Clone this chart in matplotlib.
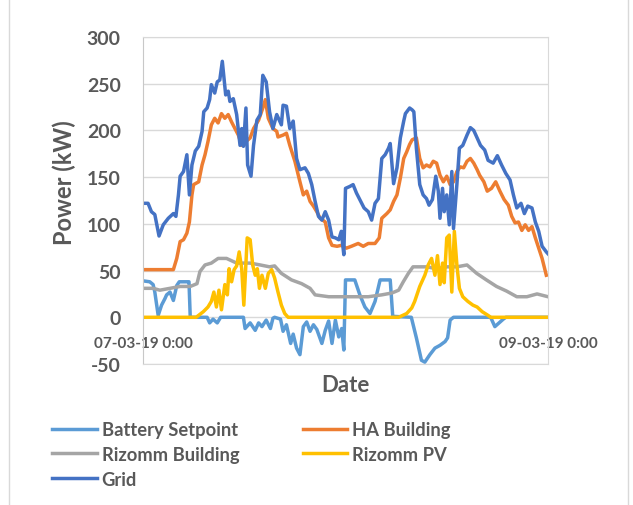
import matplotlib
matplotlib.use('Agg')
import matplotlib.pyplot as plt
from matplotlib.lines import Line2D

plt.rcParams['font.family'] = ['Lato', 'DejaVu Sans']
plt.rcParams['axes.unicode_minus'] = False

# hours since 07-03-19 0:00, power in kW
battery_h = [0, 0.8, 1.2, 1.4, 1.8, 2.2, 2.6, 2.8, 3.2, 3.6, 4.0, 4.3, 5.2, 5.45, 5.6, 7.6, 7.9, 8.3, 8.8, 9.2,
             11.9, 12.1, 12.7, 13.3, 13.7, 14.1, 14.6, 15.1, 15.4, 15.6, 16.3, 16.6, 17.0, 17.5, 17.8, 18.2, 18.6,
             19.0, 19.4, 19.8, 20.2, 20.6, 21.2, 21.6, 22.0, 22.4, 22.8, 23.2, 23.55, 23.8, 24.0, 25.1, 25.7,
             26.3, 26.9, 27.5, 28.1, 29.3, 29.6, 31.8, 32.4, 33.0, 33.4, 34.0, 34.6, 35.2, 35.8, 36.1, 36.4,
             36.8, 41.2, 41.7, 42.2, 42.7, 43.0, 48]
battery_kw = [39, 38, 35, 27, 2, 13, 20, 24, 27, 18, 34, 38, 38, 38, 0, 0, -6, -2, -6, 0,
              0, -12, -6, -14, -6, -10, -3, -12, -1, 0, -2, -15, -8, -28, -18, -33, -40,
              -10, -5, -15, -8, -13, -28, -14, -4, -28, -3, -21, -12, -35, 40, 40, 24,
              11, 4, 17, 40, 40, 1, 0, -22, -46, -48, -40, -33, -30, -26, -22, -3,
              0, 0, -10, -6, -2, 0, 0]

ha_h = [0, 3.6, 4.0, 4.4, 4.8, 5.2, 5.5, 5.8, 6.0, 6.6, 7.0, 7.35, 7.7, 8.1, 8.5, 8.9, 9.3, 9.7, 10.1, 10.5,
        10.9, 11.3, 11.7, 12.2, 12.7, 13.1, 13.7, 14.2, 14.5, 14.85, 15.4, 15.85, 16.0, 16.6, 17.0, 17.4, 18.0,
        18.6, 19.0, 19.4, 19.8, 20.2, 20.6, 21.0, 21.6, 22.0, 22.4, 23.0, 23.5, 24.1, 24.7, 25.5, 26.1, 26.7,
        27.5, 28.0, 28.3, 28.9, 29.3, 29.7, 30.1, 30.5, 30.9, 31.25, 31.6, 31.9, 32.4, 32.8, 33.2, 33.6, 34.0,
        34.4, 34.8, 35.2, 35.6, 36.0, 36.4, 36.8, 37.2, 37.6, 38.0, 38.4, 38.8, 39.2, 39.6, 39.9, 40.4, 40.8,
        41.3, 41.8, 42.3, 42.8, 43.3, 43.7, 44.1, 44.5, 44.9, 45.3, 45.7, 46.1, 46.5, 46.9, 47.3, 47.8]
ha_kw = [51, 51, 63, 81, 83, 90, 102, 131, 142, 145, 163, 174, 188, 206, 213, 208, 218, 213, 217, 209,
         202, 195, 184, 188, 192, 202, 211, 224, 233, 213, 202, 199, 193, 195, 197, 184, 167,
         145, 131, 135, 124, 119, 113, 106, 102, 85, 77, 76, 77, 74, 76, 79, 76, 79,
         79, 85, 106, 111, 115, 124, 131, 149, 170, 177, 185, 190, 192, 170, 160, 163, 161,
         167, 165, 152, 145, 151, 142, 145, 156, 161, 160, 167, 170, 165, 158, 152, 145, 135,
         138, 145, 135, 126, 120, 108, 101, 102, 93, 99, 93, 97, 85, 74, 63, 45]

rizomm_bld_h = [0, 1.2, 2.0, 3.2, 4.4, 5.6, 6.4, 6.75, 7.35, 8.1, 8.9, 9.9, 11.1, 12.7, 13.9, 15.0, 15.6,
                16.4, 17.6, 18.8, 19.8, 20.4, 22.0, 23.5, 25.1, 26.7, 28.3, 29.5, 30.3, 30.85, 31.45, 32.0,
                32.4, 33.6, 34.8, 36.0, 37.2, 38.4, 39.55, 40.7, 41.9, 43.1, 44.3, 45.5, 46.7, 48]
rizomm_bld_kw = [31, 31, 29, 31, 33, 33, 36, 49, 56, 58, 63, 63, 58, 58, 56, 54, 55,
                 47, 40, 36, 31, 24, 22, 22, 22, 22, 24, 26, 29, 38, 47, 54,
                 54, 54, 52, 54, 54, 56, 47, 40, 33, 28, 22, 22, 25, 22]

rizomm_pv_h = [0, 6.3, 7.15, 7.7, 8.1, 8.4, 8.7, 9.0, 9.3, 9.7, 10.0, 10.2, 10.5, 10.8, 11.1, 11.4, 11.7,
               11.95, 12.35, 12.7, 13.0, 13.3, 13.55, 13.8, 14.1, 14.5, 14.85, 15.25, 15.6, 16.0, 16.4, 16.8,
               17.2, 30.3, 31.25, 31.85, 32.2, 32.8, 33.4, 33.8, 34.2, 34.6, 34.9, 35.2, 35.5, 35.7, 36.0,
               36.3, 36.6, 36.9, 37.2, 37.5, 37.9, 38.5, 39.1, 39.6, 40.2, 40.9, 41.2, 48]
rizomm_pv_kw = [0, 0, 6, 11, 17, 27, 11, 29, 8, 35, 24, 52, 38, 51, 55, 70, 52,
                13, 85, 83, 56, 45, 52, 31, 45, 31, 47, 51, 42, 27, 13, 4,
                0, 0, 4, 10, 17, 33, 45, 56, 63, 45, 66, 35, 58, 37, 85,
                88, 27, 92, 56, 31, 22, 17, 13, 11, 6, 2, 0, 0]

grid_h = [0, 0.6, 1.0, 1.4, 1.9, 2.4, 3.0, 3.6, 3.9, 4.2, 4.4, 4.8, 5.2, 5.5, 5.8, 6.2, 6.6, 7.0, 7.2, 7.6,
          7.9, 8.1, 8.5, 8.8, 9.1, 9.4, 9.6, 9.8, 10.1, 10.3, 10.7, 11.1, 11.5, 11.7, 11.9, 12.2, 12.4, 12.8,
          13.1, 13.5, 13.9, 14.2, 14.6, 15.0, 15.4, 15.85, 16.4, 16.6, 17.0, 17.4, 17.8, 18.2, 18.6, 19.2,
          19.6, 20.0, 20.4, 20.8, 21.2, 21.6, 22.0, 22.4, 22.8, 23.2, 23.5, 23.8, 24.0, 24.5, 24.9, 25.3,
          25.8, 26.2, 26.7, 27.1, 27.5, 27.9, 28.3, 28.7, 29.1, 29.3, 29.7, 30.1, 30.5, 30.9, 31.1, 31.6,
          31.9, 32.1, 32.4, 32.8, 33.2, 33.6, 33.9, 34.3, 34.7, 35.0, 35.2, 35.5, 35.7, 36.0, 36.3, 36.6,
          36.8, 37.2, 37.5, 37.9, 38.4, 38.8, 39.2, 39.6, 40.0, 40.5, 40.9, 41.5, 42.0, 42.5, 43.0, 43.5,
          43.9, 44.3, 44.8, 45.2, 45.6, 46.1, 46.5, 46.9, 47.3, 47.8, 48]
grid_kw = [122, 122, 113, 110, 87, 99, 106, 111, 108, 131, 151, 156, 174, 131, 163, 178, 183, 199, 220, 224,
           233, 249, 240, 252, 254, 274, 256, 238, 242, 231, 234, 217, 184, 202, 183, 224, 163, 151,
           184, 211, 217, 259, 252, 220, 202, 217, 206, 227, 226, 202, 210, 170, 158, 160,
           154, 142, 124, 108, 104, 113, 104, 86, 85, 83, 92, 67, 138, 140, 142, 133,
           124, 117, 113, 104, 122, 127, 170, 174, 181, 186, 143, 160, 192, 210, 218, 224,
           222, 220, 181, 142, 131, 127, 120, 126, 151, 135, 106, 138, 113, 131, 99, 156,
           95, 142, 181, 184, 195, 203, 200, 192, 184, 179, 168, 165, 173, 163, 154, 147,
           131, 117, 122, 111, 119, 117, 102, 92, 76, 70, 68]

series_names = ['Battery Setpoint', 'HA Building', 'Rizomm Building', 'Rizomm PV', 'Grid']
colors = ['#5B9BD5', '#ED7D31', '#A5A5A5', '#FFC000', '#4472C4']
x_labels = ['07-03-19 0:00', '09-03-19 0:00']
txt = '#595959'

fig = plt.figure(figsize=(6.33, 5.06), dpi=100)
ax = fig.add_axes([143/633, 1-365/506, 405/633, 327/506])

data = [(battery_h, battery_kw), (ha_h, ha_kw), (rizomm_bld_h, rizomm_bld_kw),
        (rizomm_pv_h, rizomm_pv_kw), (grid_h, grid_kw)]
lines = []
for (h, kw), name, c in zip(data, series_names, colors):
    l, = ax.plot(h, kw, color=c, lw=2.5, label=name, solid_joinstyle='round')
    lines.append(l)

ax.set_xlim(0, 48)
ax.set_ylim(-50, 300)
ax.set_yticks(range(-50, 301, 50))
ax.grid(axis='y', color='#D9D9D9', lw=1.0)
ax.set_axisbelow(True)
for s in ax.spines.values():
    s.set_color('#D9D9D9')
ax.spines['left'].set_color('#C8C8C8')
ax.tick_params(axis='y', length=0, pad=16, labelsize=14, labelcolor=txt)
for t in ax.get_yticklabels():
    t.set_fontweight('bold')

ax.set_xticks([0, 48])
ax.set_xticklabels(x_labels, fontsize=11, fontweight='bold', color=txt)
ax.tick_params(axis='x', length=0, pad=-20)

ax.set_ylabel('Power (kW)', fontsize=17, fontweight='bold', color=txt)
ax.yaxis.set_label_coords(-0.165, 0.557)
ax.set_xlabel('Date', fontsize=16, fontweight='bold', color=txt, va='center')
ax.xaxis.set_label_coords(0.5, -0.064)

order = [0, 2, 4, 1, 3]
leg = fig.legend([lines[i] for i in order], [series_names[i] for i in order], ncol=2,
                 loc='upper left', bbox_to_anchor=(43/633, 1-413/506), frameon=False,
                 fontsize=13.2, handlelength=2.45, handletextpad=0.25, columnspacing=3.45,
                 labelspacing=0.42, borderpad=0)
for t in leg.get_texts():
    t.set_color(txt)
    t.set_fontweight('bold')

# chart area frame
fig.add_artist(Line2D([9/633, 9/633], [0, 1], color='#D9D9D9', lw=1))
fig.add_artist(Line2D([628/633, 628/633], [0, 1], color='#D9D9D9', lw=1))

fig.savefig('out.png', dpi=100)
